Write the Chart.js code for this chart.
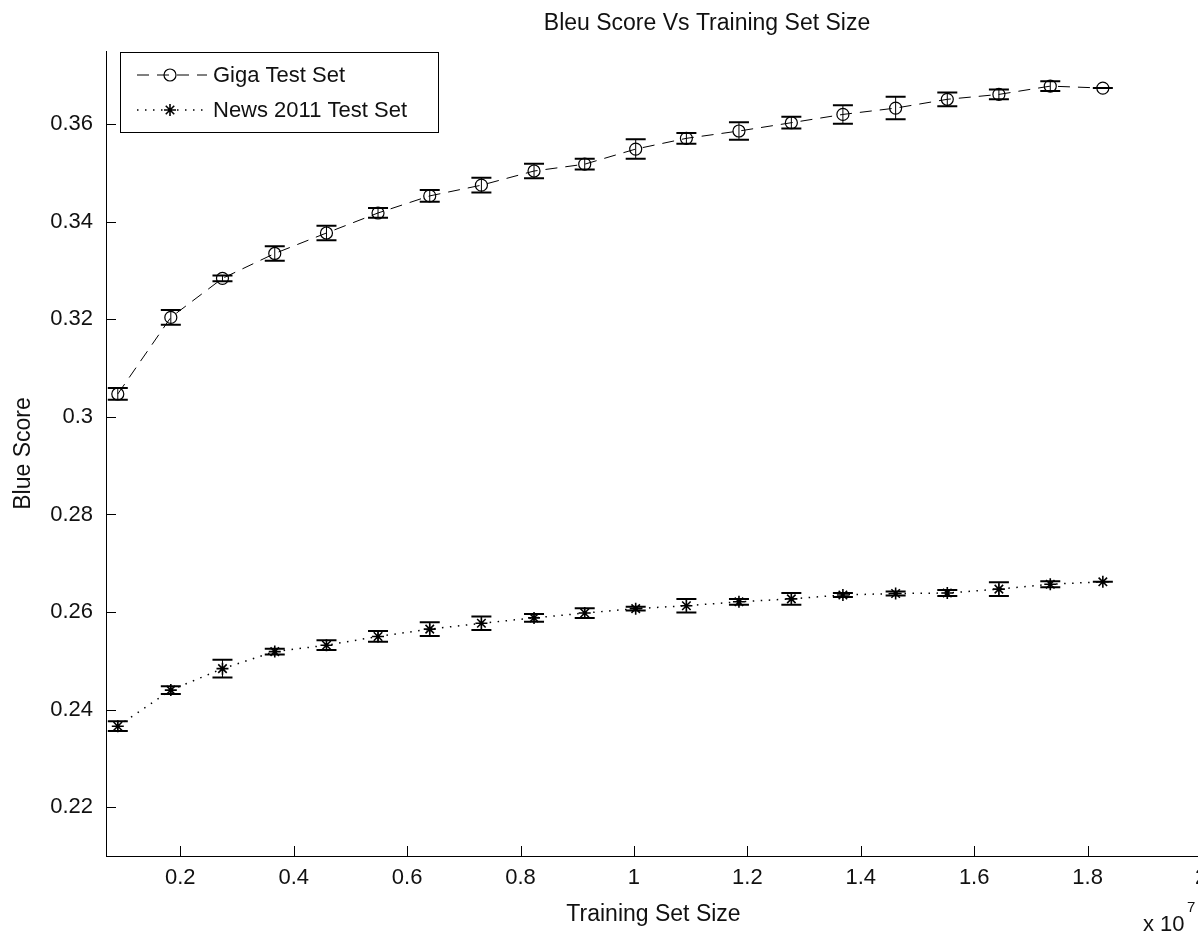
<!DOCTYPE html>
<html lang="en">
<head>
<meta charset="UTF-8">
<title>Bleu Score Vs Training Set Size</title>
<script src="https://cdn.jsdelivr.net/npm/chart.js@4.4.1/dist/chart.umd.min.js"></script>
<style>
    html, body { margin: 0; padding: 0; background: #fff; overflow: hidden; }
    #wrap { width: 1260px; height: 933px; }
    canvas { display: block; }
</style>
</head>
<body>
<div id="wrap"><canvas id="bleu" width="1260" height="933"></canvas></div>
<script>
// training set size (x 10^7)
const trainSizes = [0.0898, 0.1833, 0.2744, 0.3666, 0.4578, 0.5487, 0.6399, 0.7310, 0.8238, 0.9132,
                    1.0031, 1.0925, 1.1852, 1.2776, 1.3685, 1.4615, 1.5526, 1.6436, 1.7342, 1.8269];
const gigaScores = [0.3047, 0.3204, 0.3284, 0.3335, 0.3377, 0.3418, 0.3453, 0.3475, 0.3504, 0.3518,
                    0.3549, 0.3571, 0.3586, 0.3603, 0.3620, 0.3633, 0.3651, 0.3661, 0.3678, 0.3674];
const gigaErrors = [0.0012, 0.0015, 0.0006, 0.0015, 0.0015, 0.0010, 0.0012, 0.0015, 0.0015, 0.0011,
                    0.0020, 0.0011, 0.0018, 0.0012, 0.0019, 0.0023, 0.0014, 0.0010, 0.0010, 0.0000];
const newsScores = [0.2366, 0.2440, 0.2484, 0.2519, 0.2532, 0.2550, 0.2565, 0.2577, 0.2588, 0.2598,
                    0.2607, 0.2613, 0.2621, 0.2627, 0.2635, 0.2638, 0.2639, 0.2647, 0.2657, 0.2662];
const newsErrors = [0.0010, 0.0008, 0.0018, 0.0006, 0.0010, 0.0011, 0.0014, 0.0014, 0.0008, 0.0010,
                    0.0004, 0.0014, 0.0006, 0.0012, 0.0004, 0.0004, 0.0006, 0.0014, 0.0006, 0.0000];
const xTicks = [0.2, 0.4, 0.6, 0.8, 1, 1.2, 1.4, 1.6, 1.8, 2];
const yTicks = [0.22, 0.24, 0.26, 0.28, 0.3, 0.32, 0.34, 0.36];

const FONT = '"Liberation Sans", Arial, sans-serif';
Chart.defaults.font.family = FONT;
Chart.defaults.color = '#111';

function toPoints(ys) {
    return trainSizes.map((x, i) => ({ x: x, y: ys[i] }));
}

function drawMarker(ctx, style, x, y, r) {
    ctx.beginPath();
    if (style === 'circle') {
        ctx.arc(x, y, r, 0, Math.PI * 2);
    } else {
        for (let k = 0; k < 4; k++) {
            const a = k * Math.PI / 4;
            ctx.moveTo(x - r * Math.cos(a), y - r * Math.sin(a));
            ctx.lineTo(x + r * Math.cos(a), y + r * Math.sin(a));
        }
    }
    ctx.stroke();
}

// error bars with caps, from the dataset's errors array
const errorBars = {
    id: 'errorBars',
    afterDatasetsDraw(chart) {
        const { ctx, scales: { x, y } } = chart;
        ctx.save();
        ctx.strokeStyle = '#000';
        chart.data.datasets.forEach(ds => {
            ds.data.forEach((p, i) => {
                const e = ds.errors[i];
                const px = x.getPixelForValue(p.x);
                const top = y.getPixelForValue(p.y + e);
                const bot = y.getPixelForValue(p.y - e);
                ctx.lineWidth = 1;
                ctx.beginPath();
                ctx.moveTo(px, top);
                ctx.lineTo(px, bot);
                ctx.stroke();
                ctx.lineWidth = 2;
                ctx.beginPath();
                ctx.moveTo(px - 10, top); ctx.lineTo(px + 10, top);
                ctx.moveTo(px - 10, bot); ctx.lineTo(px + 10, bot);
                ctx.stroke();
            });
        });
        ctx.restore();
    }
};

// matlab look: inward ticks, title, boxed legend, exponent label
const matlabDecor = {
    id: 'matlabDecor',
    afterDraw(chart) {
        const { ctx, chartArea: area, scales: { x, y } } = chart;
        ctx.save();
        ctx.strokeStyle = '#000';
        ctx.lineWidth = 1;
        ctx.beginPath();
        x.ticks.forEach(t => {
            const px = Math.round(x.getPixelForValue(t.value)) + 0.5;
            ctx.moveTo(px, area.bottom);
            ctx.lineTo(px, area.bottom - 10);
        });
        y.ticks.forEach(t => {
            const py = Math.round(y.getPixelForValue(t.value)) + 0.5;
            ctx.moveTo(area.left, py);
            ctx.lineTo(area.left + 10, py);
        });
        ctx.stroke();

        ctx.fillStyle = '#111';
        ctx.font = '23px ' + FONT;
        ctx.textAlign = 'center';
        ctx.textBaseline = 'alphabetic';
        ctx.fillText('Bleu Score Vs Training Set Size', 707, 30);

        // exponent
        ctx.textAlign = 'left';
        ctx.font = '22px ' + FONT;
        ctx.fillText('x 10', 1143, 931);
        ctx.font = '15px ' + FONT;
        ctx.fillText('7', 1187, 912);

        // legend
        ctx.fillStyle = '#fff';
        ctx.fillRect(120, 52, 318, 80);
        ctx.strokeRect(120.5, 52.5, 318, 80);
        const rows = [75, 110];
        chart.data.datasets.forEach((ds, i) => {
            const ly = rows[i];
            ctx.strokeStyle = '#000';
            ctx.lineWidth = ds.borderWidth;
            ctx.setLineDash(ds.borderDash);
            ctx.beginPath();
            ctx.moveTo(137, ly);
            ctx.lineTo(207, ly);
            ctx.stroke();
            ctx.setLineDash([]);
            ctx.lineWidth = ds.pointBorderWidth;
            drawMarker(ctx, ds.pointStyle, 170, ly, ds.pointRadius);
            ctx.fillStyle = '#111';
            ctx.font = '22px ' + FONT;
            ctx.textBaseline = 'middle';
            ctx.fillText(ds.label, 213, ly + 1);
        });
        ctx.restore();
    }
};

new Chart(document.getElementById('bleu'), {
    type: 'line',
    data: {
        datasets: [
            {
                label: 'Giga Test Set',
                data: toPoints(gigaScores),
                errors: gigaErrors,
                borderColor: '#000',
                borderWidth: 1,
                borderDash: [12, 8],
                pointStyle: 'circle',
                pointRadius: 6,
                pointBorderColor: '#000',
                pointBackgroundColor: 'rgba(0,0,0,0)',
                pointBorderWidth: 1.2,
                tension: 0,
                fill: false
            },
            {
                label: 'News 2011 Test Set',
                data: toPoints(newsScores),
                errors: newsErrors,
                borderColor: '#000',
                borderWidth: 1.5,
                borderDash: [1.5, 6.5],
                pointStyle: 'star',
                pointRadius: 6,
                pointBorderColor: '#000',
                pointBackgroundColor: 'rgba(0,0,0,0)',
                pointBorderWidth: 1.6,
                tension: 0,
                fill: false
            }
        ]
    },
    options: {
        responsive: false,
        animation: false,
        events: [],
        layout: { padding: { top: 51, right: 59, left: 0, bottom: 0 } },
        plugins: {
            legend: { display: false },
            title: { display: false },
            tooltip: { enabled: false }
        },
        scales: {
            x: {
                type: 'linear',
                min: 0.069,
                max: 2,
                afterFit: s => { s.height = 77; },
                afterBuildTicks: s => { s.ticks = xTicks.map(v => ({ value: v })); },
                grid: { display: false, drawTicks: false },
                border: { display: true, color: '#000', width: 1 },
                ticks: {
                    autoSkip: false,
                    maxRotation: 0,
                    padding: 9,
                    color: '#111',
                    font: { size: 22 },
                    callback: v => String(Number(v.toFixed(1)))
                },
                title: {
                    display: true,
                    text: 'Training Set Size',
                    color: '#111',
                    font: { size: 23 },
                    padding: { top: 0, bottom: 5 }
                }
            },
            y: {
                type: 'linear',
                min: 0.21,
                max: 0.375,
                afterFit: s => { s.width = 106; },
                afterBuildTicks: s => { s.ticks = yTicks.map(v => ({ value: v })); },
                grid: { display: false, drawTicks: false },
                border: { display: true, color: '#000', width: 1 },
                ticks: {
                    padding: 13,
                    color: '#111',
                    font: { size: 22 },
                    callback: v => String(Number(v.toFixed(2)))
                },
                title: {
                    display: true,
                    text: 'Blue Score',
                    color: '#111',
                    font: { size: 23 },
                    padding: { top: 10, bottom: 0 }
                }
            }
        }
    },
    plugins: [errorBars, matlabDecor]
});
</script>
</body>
</html>
